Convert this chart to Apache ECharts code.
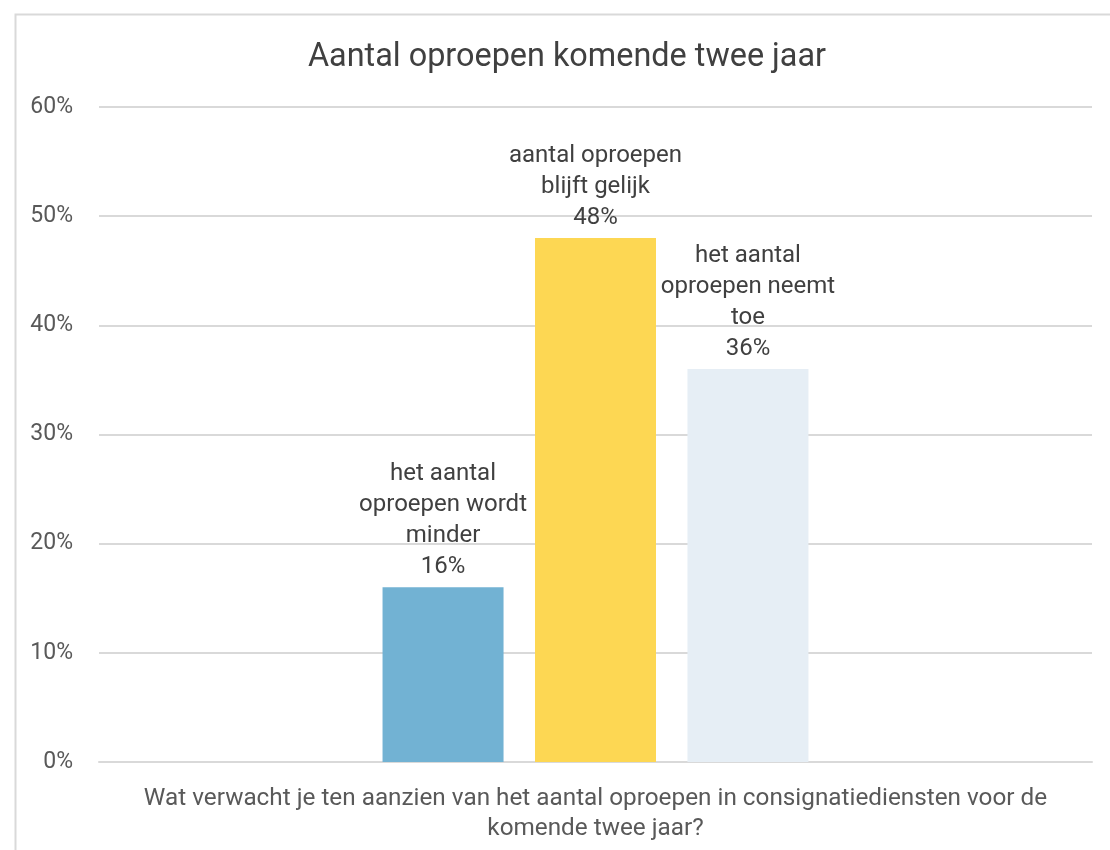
<!DOCTYPE html>
<html>
<head>
<meta charset="utf-8">
<script src="https://cdn.jsdelivr.net/npm/echarts@6/dist/echarts.min.js"></script>
<style>
  html, body { margin: 0; padding: 0; background: #fff; }
  #chart { width: 1110px; height: 850px; }
</style>
</head>
<body>
<div id="chart"></div>
<script>
// Survey question (single category on the x axis)
const categories = ['Wat verwacht je ten aanzien van het aantal oproepen in consignatiediensten voor de\nkomende twee jaar?'];
// Answer options, one bar each
const seriesNames = [
  'het aantal\noproepen wordt\nminder',
  'aantal oproepen\nblijft gelijk',
  'het aantal\noproepen neemt\ntoe'
];
// Share of respondents (%)
const seriesValues = [16, 48, 36];
const seriesColors = ['#72B2D3', '#FDD753', '#E6EEF5'];
// Value axis ticks
const yMin = 0, yMax = 60, yStep = 10;

const textColor = '#595959';
const fontFamily = 'Roboto, "Noto Sans", sans-serif';

const chart = echarts.init(document.getElementById('chart'), null, { renderer: 'canvas' });

chart.setOption({
  animation: false,
  backgroundColor: '#ffffff',
  textStyle: { fontFamily: fontFamily },
  graphic: [{
    type: 'rect',
    left: 13, top: 12,
    shape: { width: 1200, height: 900 },
    style: { fill: 'none', stroke: '#D9D9D9', lineWidth: 2 },
    silent: true,
    z: -10
  }],
  title: {
    text: 'Aantal oproepen komende twee jaar',
    left: 562,
    textAlign: 'center',
    top: 37,
    textStyle: { fontFamily: fontFamily, fontSize: 32.4, fontWeight: 'normal', color: '#404040' }
  },
  grid: { left: 99, right: 18, top: 107, bottom: 88, containLabel: false },
  xAxis: {
    type: 'category',
    data: categories,
    axisLine: { show: true, lineStyle: { color: '#D9D9D9', width: 2 } },
    axisTick: { show: false },
    axisLabel: {
      color: textColor, fontSize: 24.3, lineHeight: 30, margin: 22,
      fontFamily: fontFamily
    }
  },
  yAxis: {
    type: 'value',
    min: yMin, max: yMax, interval: yStep,
    axisLine: { show: false },
    axisTick: { show: false },
    splitLine: { lineStyle: { color: '#D9D9D9', width: 2 } },
    axisLabel: {
      color: textColor, fontSize: 23, margin: 26,
      fontFamily: fontFamily,
      formatter: v => v + '%'
    }
  },
  series: seriesNames.map((name, i) => ({
    type: 'bar',
    name: name,
    data: [seriesValues[i]],
    barWidth: 121,
    barGap: '26%',
    itemStyle: { color: seriesColors[i] },
    label: {
      show: true,
      position: 'top',
      distance: 5,
      align: 'center',
      color: '#404040',
      fontSize: 24,
      lineHeight: 31,
      fontFamily: fontFamily,
      formatter: p => p.seriesName + '\n' + p.value + '%'
    }
  }))
});
</script>
</body>
</html>
